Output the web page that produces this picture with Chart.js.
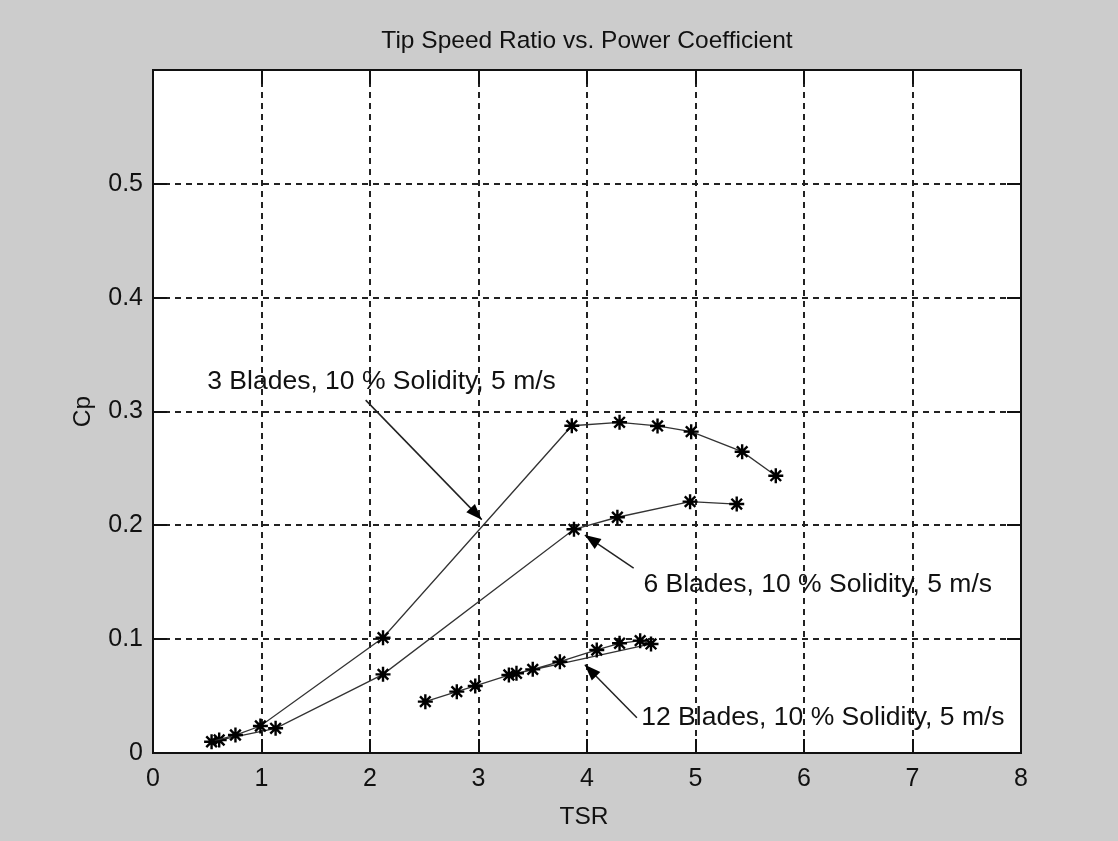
<!DOCTYPE html>
<html>
<head>
<meta charset="utf-8">
<title>Tip Speed Ratio vs. Power Coefficient</title>
<script src="https://cdn.jsdelivr.net/npm/chart.js@4.4.0/dist/chart.umd.min.js"></script>
<style>
    html, body { margin: 0; padding: 0; background: #cccccc; }
    #wrap { width: 1118px; height: 841px; }
</style>
</head>
<body>
<div id="wrap"><canvas id="cpChart" width="1118" height="841"></canvas></div>
<script>
// chart.js - TSR vs Cp, three rotor configurations

// Data
const tsr3 = [0.54, 0.76, 0.99, 2.12, 3.86, 4.30, 4.65, 4.96, 5.43, 5.74];
const cp3 = [0.0099, 0.0158, 0.0237, 0.1013, 0.2875, 0.2905, 0.2873, 0.2823, 0.2647, 0.2436];

const tsr6 = [0.61, 1.13, 2.12, 3.88, 4.28, 4.95, 5.38];
const cp6 = [0.0114, 0.0217, 0.0691, 0.1965, 0.2071, 0.2208, 0.2187];

const tsr12 = [2.51, 2.80, 2.97, 3.28, 3.50, 3.75, 4.09, 4.30, 4.49, 4.59, 3.35];
const cp12 = [0.0451, 0.0539, 0.0589, 0.0685, 0.0735, 0.0802, 0.0905, 0.0964, 0.0987, 0.0958, 0.0700];

const xTicks = [0, 1, 2, 3, 4, 5, 6, 7, 8];
const yTicks = [0, 0.1, 0.2, 0.3, 0.4, 0.5];

const chartTitle = 'Tip Speed Ratio vs. Power Coefficient';
const xTitle = 'TSR';
const yTitle = 'Cp';

// text arrows (data units)
const notes = [
    { text: '3 Blades, 10 % Solidity, 5 m/s', tx: 0.50, ty: 0.326, from: [1.96, 0.310], to: [3.03, 0.205] },
    { text: '6 Blades, 10 % Solidity, 5 m/s', tx: 4.52, ty: 0.148, from: [4.43, 0.1625], to: [3.98, 0.1915] },
    { text: '12 Blades, 10 % Solidity, 5 m/s', tx: 4.50, ty: 0.031, from: [4.46, 0.031], to: [3.98, 0.0775] }
];

const FONT = '"Liberation Sans", Arial, sans-serif';
const INK = '#111';

function toPoints(xs, ys) {
    return xs.map((x, i) => ({ x: x, y: ys[i] }));
}

function makeSet(xs, ys) {
    return {
        data: toPoints(xs, ys),
        showLine: true,
        borderColor: '#333',
        borderWidth: 1.3,
        pointStyle: 'star',
        pointRadius: 7.5,
        pointBorderWidth: 2.4,
        pointBorderColor: '#000',
        pointBackgroundColor: '#000',
        tension: 0
    };
}

// frame, inward ticks, titles and annotations
const matlabLook = {
    id: 'matlabLook',
    beforeDraw(chart) {
        const { ctx, chartArea: a } = chart;
        ctx.save();
        ctx.fillStyle = '#ffffff';
        ctx.fillRect(a.left, a.top, a.right - a.left, a.bottom - a.top);
        ctx.restore();
    },
    afterDraw(chart) {
        const { ctx, chartArea: a, scales } = chart;
        const xs = scales.x, ys = scales.y;
        const tickLen = 14;
        ctx.save();

        // ticks pointing inward on all four sides
        ctx.strokeStyle = INK;
        ctx.lineWidth = 2;
        ctx.beginPath();
        xTicks.forEach(v => {
            const px = Math.round(xs.getPixelForValue(v));
            ctx.moveTo(px, a.bottom); ctx.lineTo(px, a.bottom - tickLen);
            ctx.moveTo(px, a.top); ctx.lineTo(px, a.top + tickLen);
        });
        yTicks.forEach(v => {
            const py = Math.round(ys.getPixelForValue(v));
            ctx.moveTo(a.left, py); ctx.lineTo(a.left + tickLen, py);
            ctx.moveTo(a.right, py); ctx.lineTo(a.right - tickLen, py);
        });
        ctx.stroke();

        // box
        ctx.strokeRect(a.left, a.top, a.right - a.left, a.bottom - a.top);

        // titles
        ctx.fillStyle = INK;
        ctx.font = '24.5px ' + FONT;
        ctx.textAlign = 'center';
        ctx.textBaseline = 'middle';
        const cx = (a.left + a.right) / 2;
        ctx.fillText(chartTitle, cx, 41);
        ctx.fillText(xTitle, cx - 3, 817);
        ctx.save();
        ctx.translate(83, (a.top + a.bottom) / 2);
        ctx.rotate(-Math.PI / 2);
        ctx.fillText(yTitle, 0, 0);
        ctx.restore();

        // annotation arrows
        notes.forEach(n => {
            const x1 = xs.getPixelForValue(n.from[0]), y1 = ys.getPixelForValue(n.from[1]);
            const x2 = xs.getPixelForValue(n.to[0]), y2 = ys.getPixelForValue(n.to[1]);
            ctx.strokeStyle = '#222';
            ctx.lineWidth = 1.5;
            ctx.beginPath();
            ctx.moveTo(x1, y1);
            ctx.lineTo(x2, y2);
            ctx.stroke();
            const ang = Math.atan2(y2 - y1, x2 - x1);
            const len = 16, half = 6;
            ctx.fillStyle = '#000';
            ctx.beginPath();
            ctx.moveTo(x2, y2);
            ctx.lineTo(x2 - len * Math.cos(ang) + half * Math.sin(ang), y2 - len * Math.sin(ang) - half * Math.cos(ang));
            ctx.lineTo(x2 - len * Math.cos(ang) - half * Math.sin(ang), y2 - len * Math.sin(ang) + half * Math.cos(ang));
            ctx.closePath();
            ctx.fill();

            ctx.fillStyle = INK;
            ctx.font = '26.5px ' + FONT;
            ctx.textAlign = 'left';
            ctx.textBaseline = 'middle';
            ctx.fillText(n.text, xs.getPixelForValue(n.tx), ys.getPixelForValue(n.ty));
        });

        ctx.restore();
    }
};

const ctx = document.getElementById('cpChart').getContext('2d');
new Chart(ctx, {
    type: 'scatter',
    data: {
        datasets: [makeSet(tsr3, cp3), makeSet(tsr6, cp6), makeSet(tsr12, cp12)]
    },
    options: {
        responsive: false,
        animation: false,
        devicePixelRatio: 1,
        // y axis box is 153 wide, x axis box 88 tall -> plot area 153..1021 x 70..753
        layout: { padding: { left: 0, right: 97, top: 70, bottom: 0 } },
        plugins: {
            legend: { display: false },
            tooltip: { enabled: false },
            title: { display: false }
        },
        scales: {
            x: {
                type: 'linear',
                min: 0,
                max: 8,
                afterFit: s => { s.height = 88; },
                afterBuildTicks: s => { s.ticks = xTicks.map(v => ({ value: v })); },
                grid: { color: '#222', lineWidth: 2, drawTicks: false },
                border: { display: false, dash: [6, 5] },
                ticks: {
                    padding: 11,
                    color: INK,
                    font: { family: FONT, size: 25 },
                    maxRotation: 0,
                    autoSkip: false,
                    callback: v => String(v)
                }
            },
            y: {
                type: 'linear',
                min: 0,
                max: 0.6,
                afterFit: s => { s.width = 153; },
                afterBuildTicks: s => { s.ticks = yTicks.map(v => ({ value: v })); },
                grid: { color: '#222', lineWidth: 2, drawTicks: false },
                border: { display: false, dash: [6, 5] },
                ticks: {
                    padding: 10,
                    color: INK,
                    font: { family: FONT, size: 25 },
                    autoSkip: false,
                    callback: v => String(Math.round(v * 10) / 10)
                }
            }
        }
    },
    plugins: [matlabLook]
});
</script>
</body>
</html>
